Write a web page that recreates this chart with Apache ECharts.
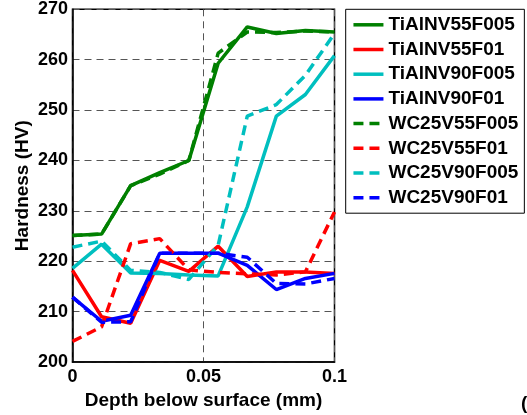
<!DOCTYPE html>
<html>
<head>
<meta charset="utf-8">
<script src="https://cdn.jsdelivr.net/npm/echarts@6/dist/echarts.min.js"></script>
<style>
  html, body { margin: 0; padding: 0; background: #fff; }
  #chart { width: 527px; height: 415px; }
</style>
</head>
<body>
<div id="chart"></div>
<script>
// Depth positions of the hardness indents (mm)
const depth = [0, 0.0111, 0.0222, 0.0333, 0.0444, 0.0556, 0.0667, 0.0778, 0.0889, 0.1];

// Microhardness profiles (HV) for each tool / cutting condition
const TiAlNV55F005 = [225.1, 225.4, 235.0, 237.6, 240.0, 259.3, 266.5, 265.2, 265.8, 265.5];
const TiAlNV55F01  = [218.2, 209.0, 207.7, 220.2, 218.0, 223.0, 217.0, 217.9, 217.9, 217.6];
const TiAlNV90F005 = [218.6, 223.4, 217.7, 217.6, 217.3, 217.1, 230.8, 248.8, 253.1, 260.8];
const TiAlNV90F01  = [212.9, 208.1, 209.3, 221.6, 221.6, 221.6, 219.2, 214.4, 216.6, 217.6];
const WC25V55F005  = [225.1, 225.4, 235.0, 237.3, 240.0, 261.3, 265.5, 265.4, 265.7, 265.5];
const WC25V55F01   = [204.1, 207.0, 223.5, 224.5, 218.3, 217.8, 217.5, 217.3, 217.9, 229.8];
const WC25V90F005  = [222.8, 224.0, 218.2, 217.8, 216.4, 223.2, 248.8, 251.1, 256.9, 265.2];
const WC25V90F01   = [212.9, 207.9, 208.0, 221.6, 221.6, 221.6, 220.8, 215.6, 215.5, 216.6];

const seriesNames = ['TiAlNV55F005', 'TiAlNV55F01', 'TiAlNV90F005', 'TiAlNV90F01',
                     'WC25V55F005', 'WC25V55F01', 'WC25V90F005', 'WC25V90F01'];
const seriesValues = [TiAlNV55F005, TiAlNV55F01, TiAlNV90F005, TiAlNV90F01,
                      WC25V55F005, WC25V55F01, WC25V90F005, WC25V90F01];
const seriesColors = ['#008000', '#ff0000', '#00bfbf', '#0000ff',
                      '#008000', '#ff0000', '#00bfbf', '#0000ff'];
const seriesDashed = [false, false, false, false, true, true, true, true];

const yTicks = { min: 200, max: 270, step: 10 };
const xTicks = { min: 0, max: 0.1, step: 0.05 };

const FONT = 'Arial, "Liberation Sans", Helvetica, sans-serif';

const chart = echarts.init(document.getElementById('chart'), null, { renderer: 'canvas' });

const series = seriesNames.map((name, i) => ({
  name: name,
  type: 'line',
  data: depth.map((d, j) => [d, seriesValues[i][j]]),
  symbol: 'none',
  smooth: false,
  animation: false,
  color: seriesColors[i],
  lineStyle: {
    color: seriesColors[i],
    width: 3.5,
    type: seriesDashed[i] ? [10, 6] : 'solid'
  },
  emphasis: { disabled: true }
}));

chart.setOption({
  animation: false,
  backgroundColor: '#ffffff',
  grid: {
    left: 72.5, right: 192.5, top: 9.3, bottom: 51,
    show: true, borderColor: '#000', borderWidth: 1.5, backgroundColor: 'transparent'
  },
  xAxis: {
    type: 'value',
    min: xTicks.min, max: xTicks.max, interval: xTicks.step,
    name: 'Depth below surface (mm)',
    nameLocation: 'middle',
    nameGap: 24,
    nameTextStyle: { fontFamily: FONT, fontWeight: 'bold', fontSize: 19, color: '#000' },
    axisLine: { show: true, lineStyle: { color: '#000', width: 1.5 } },
    axisTick: { show: false },
    axisLabel: {
      margin: 6, fontFamily: FONT, fontWeight: 'bold', fontSize: 18, color: '#000',
      formatter: v => String(v)
    },
    splitLine: { show: true, lineStyle: { color: '#555', width: 1, type: [7, 5] } }
  },
  yAxis: {
    type: 'value',
    min: yTicks.min, max: yTicks.max, interval: yTicks.step,
    name: 'Hardness (HV)',
    nameLocation: 'middle',
    nameGap: 40,
    nameTextStyle: { fontFamily: FONT, fontWeight: 'bold', fontSize: 19, color: '#000' },
    axisLine: { show: true, lineStyle: { color: '#000', width: 1.5 } },
    axisTick: { show: false },
    axisLabel: { margin: 4.5, fontFamily: FONT, fontWeight: 'bold', fontSize: 18, color: '#000' },
    splitLine: { show: true, lineStyle: { color: '#555', width: 1, type: [7, 5] } }
  },
  legend: {
    show: true,
    orient: 'vertical',
    left: 345.7,
    top: 9.3,
    padding: [6, 6, 6, 6],
    itemWidth: 30,
    itemHeight: 14,
    itemGap: 5.7,
    borderColor: '#000',
    borderWidth: 1,
    backgroundColor: '#fff',
    selectedMode: false,
    data: seriesNames,
    // legend keys show only the line sample, no marker
    itemStyle: { opacity: 0 },
    lineStyle: { width: 3.5 },
    textStyle: { fontFamily: FONT, fontWeight: 'bold', fontSize: 19, color: '#000', lineHeight: 19 }
  },
  graphic: [{
    type: 'text',
    left: 521,
    top: 394,
    silent: true,
    style: { text: '(a)', font: 'bold 19px ' + FONT, fill: '#000' }
  }],
  series: series
});
</script>
</body>
</html>
